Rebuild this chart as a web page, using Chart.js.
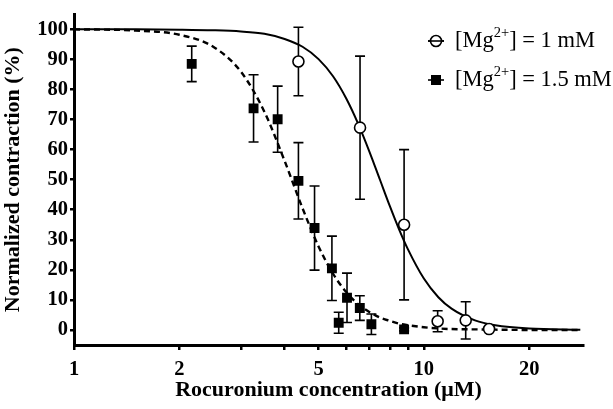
<!DOCTYPE html>
<html><head><meta charset="utf-8">
<script src="https://cdn.jsdelivr.net/npm/chart.js@4.4.1/dist/chart.umd.min.js"></script>
<style>html,body{margin:0;padding:0;background:#fff}#wrap{width:613px;height:409px}</style>
</head><body><div id="wrap"><canvas id="c" width="613" height="409"></canvas></div>
<script>
// ---- data ----
const conc1 = [4.38, 6.57, 8.78, 10.95, 13.17, 15.36];           // [Mg2+] = 1 mM
const resp1 = [89.3, 67.3, 35.0, 2.9, 3.2, 0.3];
const err1  = [11.4, 23.8, 25.0, 3.5, 6.2, 0.8];

const conc2 = [2.17, 3.26, 3.82, 4.38, 4.87, 5.46, 5.71, 6.03, 6.56, 7.08, 8.78]; // [Mg2+] = 1.5 mM
const resp2 = [88.5, 73.7, 70.1, 49.6, 33.9, 20.5, 2.4, 10.7, 7.3, 1.9, 0.2];
const err2  = [5.9, 11.2, 11.0, 12.7, 14.0, 10.7, 3.5, 8.2, 4.1, 3.4, 0.5];

const curveX      = [1, 1.5, 2, 2.5, 3, 3.5, 4, 4.5, 5, 5.5, 6, 6.5, 7, 7.5, 8, 8.5, 9, 10, 11, 12, 14, 16, 20, 28];
const curveSolid  = [100, 100, 99.9, 99.7, 99.3, 98.5, 96.8, 94.2, 90.1, 84.4, 77.0, 68.4, 59.1, 49.8, 41.1, 33.4, 26.9, 17.1, 10.9, 7.1, 3.2, 1.6, 0.5, 0.1];
const curveDashed = [100, 99.6, 98.2, 94.2, 85.9, 72.6, 56.2, 40.5, 27.8, 18.7, 12.6, 8.5, 5.9, 4.1, 3.0, 2.1, 1.6, 0.9, 0.5, 0.3, 0.2, 0.1, 0, 0];

const xTickLabels = [1, 2, 5, 10, 20];
const xMinorTicks = [3, 4, 6, 7, 8, 9];
const yTicks = [0, 10, 20, 30, 40, 50, 60, 70, 80, 90, 100];
const seriesNames = ['1 mM', '1.5 mM'];

const FONT = "'Liberation Serif', 'Times New Roman', serif";
const pts = (xs, ys) => xs.map((x, i) => ({x, y: ys[i]}));

const errorBars = {
  id: 'errorBars',
  beforeDatasetsDraw(chart) {
    const ctx = chart.ctx, xs = chart.scales.x, ys = chart.scales.y;
    ctx.save();
    ctx.strokeStyle = '#000'; ctx.lineWidth = 1.6;
    [[conc1, resp1, err1], [conc2, resp2, err2]].forEach(([cx, cy, ce]) => {
      cx.forEach((x, i) => {
        const px = xs.getPixelForValue(x);
        const top = ys.getPixelForValue(cy[i] + ce[i]);
        const bot = ys.getPixelForValue(cy[i] - ce[i]);
        ctx.beginPath();
        ctx.moveTo(px, top); ctx.lineTo(px, bot);
        ctx.moveTo(px - 5, top); ctx.lineTo(px + 5, top);
        ctx.moveTo(px - 5, bot); ctx.lineTo(px + 5, bot);
        ctx.stroke();
      });
    });
    ctx.restore();
  }
};

const legendPlugin = {
  id: 'customLegend',
  afterDraw(chart) {
    const ctx = chart.ctx;
    ctx.save();
    const rows = [41, 80];
    rows.forEach((y, i) => {
      const mx = 436;
      ctx.strokeStyle = '#000'; ctx.lineWidth = 1.6;
      ctx.beginPath(); ctx.moveTo(mx - 8, y); ctx.lineTo(mx + 8, y); ctx.stroke();
      if (i === 0) {
        ctx.beginPath(); ctx.arc(mx, y, 5.5, 0, Math.PI * 2);
        ctx.fillStyle = '#fff'; ctx.fill(); ctx.stroke();
        ctx.beginPath(); ctx.moveTo(mx - 8, y); ctx.lineTo(mx + 8, y); ctx.stroke();
      } else {
        ctx.fillStyle = '#000'; ctx.fillRect(mx - 5, y - 5, 10, 10);
      }
      ctx.fillStyle = '#000';
      ctx.textBaseline = 'middle';
      let x = 455;
      ctx.font = '22.5px ' + FONT;
      ctx.fillText('[Mg', x, y); x += ctx.measureText('[Mg').width;
      ctx.font = '14.5px ' + FONT;
      ctx.fillText('2+', x, y - 8); x += ctx.measureText('2+').width;
      ctx.font = '22.5px ' + FONT;
      ctx.fillText('] = ' + seriesNames[i], x, y);
    });
    ctx.restore();
  }
};

new Chart(document.getElementById('c'), {
  type: 'scatter',
  data: {
    datasets: [
      { label: '[Mg2+] = 1 mM', data: pts(conc1, resp1), pointStyle: 'circle', pointRadius: 5.5,
        backgroundColor: '#fff', borderColor: '#000', pointBorderWidth: 1.6, showLine: false },
      { label: '[Mg2+] = 1.5 mM', data: pts(conc2, resp2), pointStyle: 'rect', pointRadius: 7,
        backgroundColor: '#000', borderColor: '#000', pointBorderWidth: 0, showLine: false },
      { label: 'fit 1 mM', data: pts(curveX, curveSolid), showLine: true, pointRadius: 0,
        borderColor: '#000', borderWidth: 2, cubicInterpolationMode: 'monotone' },
      { label: 'fit 1.5 mM', data: pts(curveX, curveDashed), showLine: true, pointRadius: 0,
        borderColor: '#000', borderWidth: 2.4, borderDash: [6, 4], cubicInterpolationMode: 'monotone' }
    ]
  },
  options: {
    responsive: false, animation: false, devicePixelRatio: 1,
    layout: { padding: { top: 7, right: 30, left: 0, bottom: 0 } },
    plugins: { legend: { display: false }, tooltip: { enabled: false } },
    scales: {
      x: {
        type: 'logarithmic', min: 1, max: 28.5,
        afterBuildTicks: s => { s.ticks = xTickLabels.concat(xMinorTicks).sort((a, b) => a - b).map(v => ({value: v})); },
        afterFit: s => { s.height = 64; },
        ticks: { autoSkip: false, maxRotation: 0, padding: 7, color: '#000',
          font: { family: FONT, size: 20.5, weight: 'bold' },
          callback: v => xTickLabels.includes(v) ? String(v) : '' },
        grid: { drawOnChartArea: false, drawTicks: true, tickLength: 5, color: '#000', lineWidth: 2.5 },
        border: { display: true, color: '#000', width: 3 },
        title: { display: true, text: 'Rocuronium concentration (μM)', color: '#000',
          font: { family: FONT, size: 22, weight: 'bold' }, padding: { top: 0, bottom: 5 } }
      },
      y: {
        min: -5, max: 105,
        afterBuildTicks: s => { s.ticks = yTicks.map(v => ({value: v})); },
        afterFit: s => { s.width = 74; },
        ticks: { autoSkip: false, padding: 2, color: '#000',
          font: { family: FONT, size: 20.5, weight: 'bold' } },
        grid: { drawOnChartArea: false, drawTicks: true, tickLength: 4, color: '#000', lineWidth: 2.5 },
        border: { display: true, color: '#000', width: 3 },
        title: { display: true, text: 'Normalized contraction (%)', color: '#000',
          font: { family: FONT, size: 22, weight: 'bold' }, padding: { top: 0, bottom: 0 } }
      }
    }
  },
  plugins: [errorBars, legendPlugin]
});
</script></body></html>
